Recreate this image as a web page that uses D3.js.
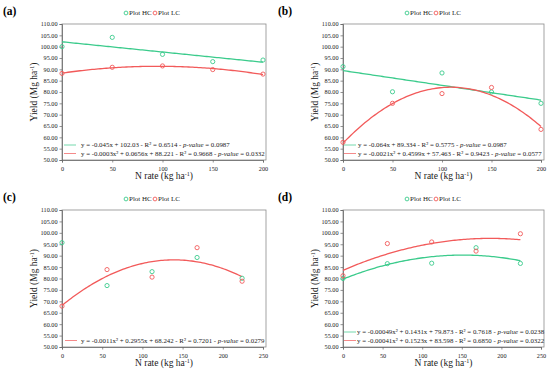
<!DOCTYPE html>
<html>
<head>
<meta charset="utf-8">
<script src="https://cdnjs.cloudflare.com/ajax/libs/d3/7.8.5/d3.min.js"></script>
<style>
  body { margin: 0; background: #fff; }
  svg { display: block; }
  text { font-family: "Liberation Serif", "Times New Roman", serif; fill: #222; }
</style>
</head>
<body>
<svg id="chart" width="550" height="372"></svg>
<script>
// N rates (kg/ha) for the two trials
const nRatesAB = [0, 50, 100, 150, 200];
const nRatesCD = [0, 56, 112, 168, 224];

// yields (Mg/ha)
const hcA = [100.0, 104.1, 96.6, 93.4, 94.1];
const lcA = [88.2, 90.9, 91.5, 89.9, 87.9];
const hcB = [91.2, 80.1, 88.4, 80.0, 75.0];
const lcB = [57.8, 75.0, 79.3, 82.0, 63.5];
const hcC = [95.7, 76.9, 83.0, 89.2, 80.1];
const lcC = [67.9, 83.9, 80.6, 93.5, 78.8];
const hcD = [80.0, 86.5, 86.7, 93.5, 86.6];
const lcD = [81.2, 95.3, 96.0, 92.0, 99.6];

const yTicks = [50, 55, 60, 65, 70, 75, 80, 85, 90, 95, 100, 105, 110];
const xTicksAB = [0, 50, 100, 150, 200];
const xTicksCD = [0, 50, 100, 150, 200, 250];
const seriesNames = ["Plot HC", "Plot LC"];
const panelLabels = ["(a)", "(b)", "(c)", "(d)"];

// trendline equations as printed ([series index, text])
const eqA = [[0, "y = -0.045x + 102.03 - R² = 0.6514 - p-value = 0.0987"],
             [1, "y = -0.0003x² + 0.0656x + 88.221 - R² = 0.9668 - p-value = 0.0332"]];
const eqB = [[0, "y = -0.064x + 89.334 - R² = 0.5775 - p-value = 0.0987"],
             [1, "y = -0.0021x² + 0.4599x + 57.463 - R² = 0.9423 - p-value = 0.0577"]];
const eqC = [[1, "y = -0.0011x² + 0.2955x + 68.242 - R² = 0.7201 - p-value = 0.0279"]];
const eqD = [[0, "y = -0.00049x² + 0.1431x + 79.873 - R² = 0.7618 - p-value = 0.0238"],
             [1, "y = -0.00041x² + 0.1523x + 83.598 - R² = 0.6850 - p-value = 0.0322"]];

const colors = ["#3bcb8c", "#f25a5a"];

const svg = d3.select("#chart");

// least squares polynomial fit (degree 1 or 2), like excel trendlines
function polyFit(xs, ys, deg) {
  const n = deg + 1;
  const A = [], b = [];
  for (let i = 0; i < n; i++) {
    A.push([]);
    for (let j = 0; j < n; j++) A[i].push(d3.sum(xs, x => Math.pow(x, i + j)));
    b.push(d3.sum(xs, (x, k) => ys[k] * Math.pow(x, i)));
  }
  // gaussian elimination
  for (let i = 0; i < n; i++) {
    for (let k = i + 1; k < n; k++) {
      const f = A[k][i] / A[i][i];
      for (let j = i; j < n; j++) A[k][j] -= f * A[i][j];
      b[k] -= f * b[i];
    }
  }
  const c = new Array(n).fill(0);
  for (let i = n - 1; i >= 0; i--) {
    let s = b[i];
    for (let j = i + 1; j < n; j++) s -= A[i][j] * c[j];
    c[i] = s / A[i][i];
  }
  return x => c.reduce((acc, ci, i) => acc + ci * Math.pow(x, i), 0);
}

function drawPanel(p) {
  const g = svg.append("g").attr("transform", `translate(${p.ox},${p.oy})`);
  const left = p.left, right = p.right, top = p.top, bottom = p.bottom;

  const x = d3.scaleLinear().domain([0, p.xTicks[p.xTicks.length - 1]]).range([left, right - 3]);
  const y = d3.scaleLinear().domain([50, 110]).range([bottom, top]);

  // panel label
  g.append("text").attr("x", 3).attr("y", 15)
    .style("font-size", "11.5px").style("font-weight", "bold").style("fill", "#000")
    .text(p.label);

  // plot box
  g.append("rect").attr("x", left).attr("y", top)
    .attr("width", right - left).attr("height", bottom - top)
    .attr("fill", "none").attr("stroke", "#8c8c8c").attr("stroke-width", 0.8);

  // y axis
  const yAxis = g.append("g").attr("transform", `translate(${left},0)`)
    .call(d3.axisLeft(y).tickValues(yTicks).tickSize(2.5).tickPadding(2).tickFormat(d3.format(".2f")));
  yAxis.select(".domain").attr("stroke", "#666").attr("stroke-width", 0.8);
  yAxis.selectAll(".tick line").attr("stroke", "#666").attr("stroke-width", 0.7);
  yAxis.selectAll("text").style("font-size", "6.2px").style("font-family", "Liberation Serif").attr("fill", "#333");

  // x axis
  const xAxis = g.append("g").attr("transform", `translate(0,${bottom})`)
    .call(d3.axisBottom(x).tickValues(p.xTicks).tickSize(2.5).tickPadding(4).tickFormat(d3.format("d")));
  xAxis.select(".domain").attr("stroke", "#666").attr("stroke-width", 0.8);
  xAxis.selectAll(".tick line").attr("stroke", "#666").attr("stroke-width", 0.7);
  xAxis.selectAll("text").style("font-size", "6.2px").style("font-family", "Liberation Serif").attr("fill", "#333");

  // axis titles
  const yt = g.append("text")
    .attr("transform", `translate(${left - 25},${(top + bottom) / 2}) rotate(-90)`)
    .attr("text-anchor", "middle").style("font-size", "9.5px");
  yt.append("tspan").text("Yield (Mg ha");
  yt.append("tspan").attr("dy", -3).style("font-size", "6px").text("-1");
  yt.append("tspan").attr("dy", 3).text(")");

  const xt = g.append("text")
    .attr("x", (left + right) / 2).attr("y", bottom + 19)
    .attr("text-anchor", "middle").style("font-size", "9.5px");
  xt.append("tspan").text("N rate (kg ha");
  xt.append("tspan").attr("dy", -3).style("font-size", "6px").text("-1");
  xt.append("tspan").attr("dy", 3).text(")");

  // legend at top
  const lg = g.append("g").attr("transform", `translate(${left + 62},13)`);
  seriesNames.forEach((name, i) => {
    const ox = i * 29;
    lg.append("circle").attr("cx", ox + 2).attr("cy", 0).attr("r", 1.9)
      .attr("fill", "none").attr("stroke", colors[i]).attr("stroke-width", 0.9);
    lg.append("text").attr("x", ox + 5).attr("y", 2.3).style("font-size", "7px").text(name);
  });

  // trendlines
  const xMax = d3.max(p.xs);
  p.fits.forEach(f => {
    const fn = polyFit(p.xs, p.ys[f.s], f.deg);
    const pts = d3.range(0, xMax + 0.01, xMax / 100).map(v => [x(v), y(fn(v))]);
    g.append("path").attr("d", d3.line()(pts))
      .attr("fill", "none").attr("stroke", colors[f.s]).attr("stroke-width", 1.3);
  });

  // points
  p.ys.forEach((vals, s) => {
    g.append("g").selectAll("circle").data(vals).join("circle")
      .attr("cx", (d, i) => x(p.xs[i])).attr("cy", d => y(d)).attr("r", 2.1)
      .attr("fill", "none").attr("stroke", colors[s]).attr("stroke-width", 0.9);
  });

  // equation legend inside plot
  const rowY = p.eqs.length === 2 ? [bottom - 15, bottom - 6.5] : [bottom - 6.5];
  p.eqs.forEach(([s, txt], i) => {
    g.append("line").attr("x1", left + p.eqLine).attr("x2", left + p.eqLine + 12)
      .attr("y1", rowY[i]).attr("y2", rowY[i])
      .attr("stroke", colors[s]).attr("stroke-width", 1).attr("opacity", 0.7);
    const t = g.append("text").attr("x", left + p.eqText).attr("y", rowY[i] + 2.3)
      .style("font-size", "6.85px");
    const parts = txt.split("p-value");
    t.append("tspan").text(parts[0]);
    t.append("tspan").style("font-style", "italic").text("p-value");
    t.append("tspan").text(parts[1]);
  });
}

const panels = [
  { label: panelLabels[0], ox: 0, oy: 0, left: 62, right: 266, top: 24, bottom: 160,
    xTicks: xTicksAB, xs: nRatesAB, ys: [hcA, lcA], fits: [{ s: 0, deg: 1 }, { s: 1, deg: 2 }],
    eqs: eqA, eqLine: 2, eqText: 19 },
  { label: panelLabels[1], ox: 275, oy: 0, left: 68, right: 269, top: 24, bottom: 160,
    xTicks: xTicksAB, xs: nRatesAB, ys: [hcB, lcB], fits: [{ s: 0, deg: 1 }, { s: 1, deg: 2 }],
    eqs: eqB, eqLine: 1, eqText: 15 },
  { label: panelLabels[2], ox: 0, oy: 186, left: 62, right: 266, top: 24, bottom: 161,
    xTicks: xTicksCD, xs: nRatesCD, ys: [hcC, lcC], fits: [{ s: 1, deg: 2 }],
    eqs: eqC, eqLine: 3, eqText: 19 },
  { label: panelLabels[3], ox: 275, oy: 186, left: 68, right: 269, top: 24, bottom: 161,
    xTicks: xTicksCD, xs: nRatesCD, ys: [hcD, lcD], fits: [{ s: 0, deg: 2 }, { s: 1, deg: 2 }],
    eqs: eqD, eqLine: 1, eqText: 14 }
];

panels.forEach(drawPanel);
</script>
</body>
</html>
